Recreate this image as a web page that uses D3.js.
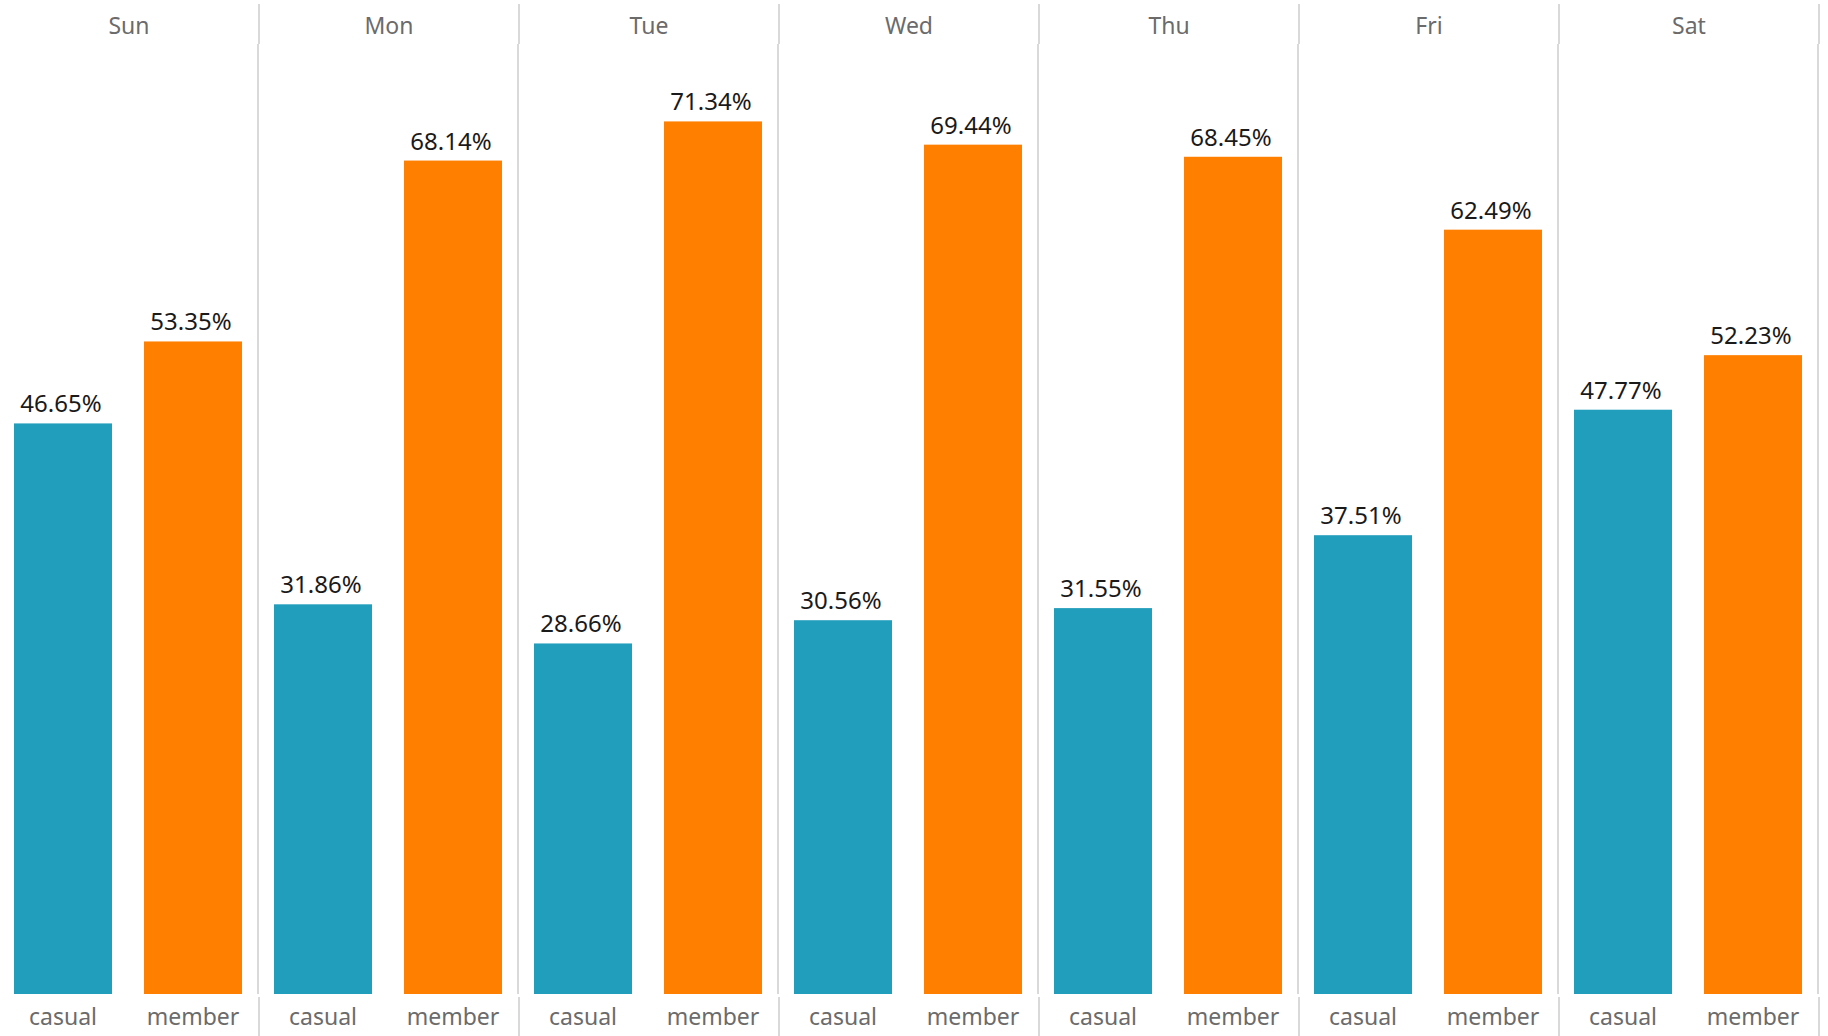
<!DOCTYPE html>
<html>
<head>
<meta charset="utf-8">
<script src="https://cdn.jsdelivr.net/npm/d3@7"></script>
<style>
  html, body { margin: 0; padding: 0; background: #fff; }
  text { font-family: "Noto Sans", "Open Sans", sans-serif; }
</style>
</head>
<body>
<div id="chart"></div>
<script>
// data
const days = ["Sun", "Mon", "Tue", "Wed", "Thu", "Fri", "Sat"];
const riderTypes = ["casual", "member"];
const casualShare = [46.65, 31.86, 28.66, 30.56, 31.55, 37.51, 47.77];
const memberShare = [53.35, 68.14, 71.34, 69.44, 68.45, 62.49, 52.23];

// layout
const WIDTH = 1828;
const HEIGHT = 1036;
const PANEL_W = 260;
const HEADER_H = 44;
const BASELINE = 994;
const COLORS = { casual: "#219ebc", member: "#ff7f00" };
const DIVIDER = "#cccccc";

const data = days.map((day, i) => ({
  day,
  values: [
    { type: "casual", value: casualShare[i] },
    { type: "member", value: memberShare[i] },
  ],
}));

const svg = d3.select("#chart")
  .append("svg")
  .attr("width", WIDTH)
  .attr("height", HEIGHT);

// panel scale (one column per day)
const xDay = d3.scaleBand()
  .domain(days)
  .range([0, PANEL_W * days.length]);

// bars inside each panel
const xType = d3.scaleBand()
  .domain(riderTypes)
  .range([-2, PANEL_W - 2])
  .paddingInner(32 / 130)
  .paddingOuter(16 / 130);

const y = d3.scaleLinear()
  .domain([0, 80])
  .range([BASELINE, 15.5]);

const panels = svg.selectAll(".panel")
  .data(data)
  .join("g")
  .attr("class", "panel")
  .attr("transform", (d) => `translate(${xDay(d.day)},0)`);

// day headers
panels.append("text")
  .attr("x", PANEL_W / 2 - 1)
  .attr("y", 34)
  .attr("text-anchor", "middle")
  .attr("fill", "#6b6b6b")
  .attr("font-size", 23)
  .text((d) => d.day);

panels.selectAll(".bar")
  .data((d) => d.values)
  .join("rect")
  .attr("class", "bar")
  .attr("x", (d) => xType(d.type))
  .attr("width", xType.bandwidth())
  .attr("y", (d) => y(d.value))
  .attr("height", (d) => y(0) - y(d.value))
  .attr("fill", (d) => COLORS[d.type]);

panels.selectAll(".label")
  .data((d) => d.values)
  .join("text")
  .attr("class", "label")
  .attr("x", (d) => xType(d.type) + xType.bandwidth() / 2 - 2)
  .attr("y", (d) => y(d.value) - 11)
  .attr("text-anchor", "middle")
  .attr("fill", "#1a1a1a")
  .attr("font-size", 24)
  .text((d) => d.value.toFixed(2) + "%");

// bottom category axis
panels.append("g")
  .attr("transform", `translate(0,${BASELINE})`)
  .call(d3.axisBottom(xType).tickSize(0).tickPadding(0))
  .call((g) => g.select(".domain").remove())
  .call((g) =>
    g.selectAll("text")
      .attr("y", 31)
      .attr("dy", null)
      .attr("fill", "#6b6b6b")
      .attr("font-size", 23)
      .attr("font-family", "Noto Sans, Open Sans, sans-serif")
  );

// dividers between panels
const dividers = svg.append("g")
  .attr("stroke", DIVIDER)
  .attr("stroke-width", 1.5);

days.forEach((day) => {
  const xr = xDay(day) + PANEL_W;
  dividers.append("line")
    .attr("x1", xr - 1).attr("x2", xr - 1)
    .attr("y1", 4).attr("y2", HEADER_H);
  dividers.append("line")
    .attr("x1", xr - 2).attr("x2", xr - 2)
    .attr("y1", HEADER_H).attr("y2", BASELINE);
  dividers.append("line")
    .attr("x1", xr - 1).attr("x2", xr - 1)
    .attr("y1", BASELINE + 3).attr("y2", HEIGHT);
});
</script>
</body>
</html>
